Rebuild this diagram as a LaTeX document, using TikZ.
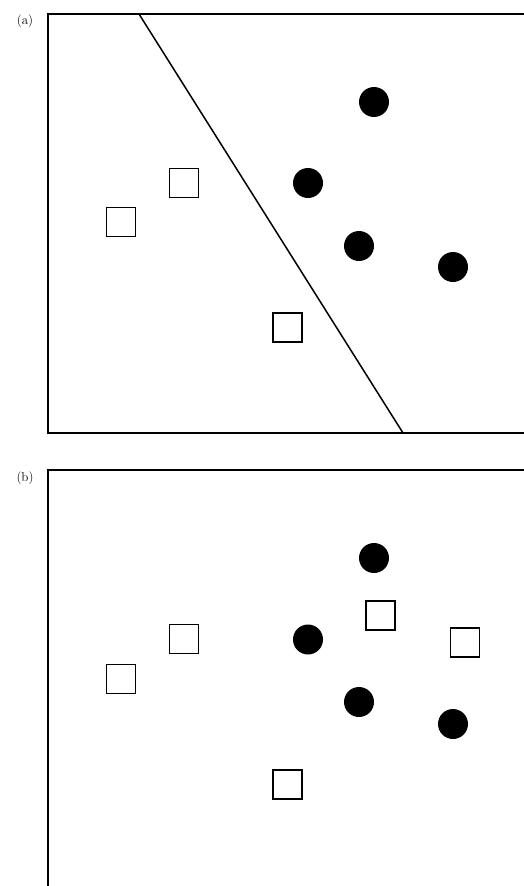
\documentclass[tikz,border=0pt]{standalone}
\begin{document}
\begin{tikzpicture}[x=1pt,y=-1pt,
  sq/.style={draw=black,line width=1.6pt,fill=white,minimum size=29pt,inner sep=0pt,outer sep=0pt},
  dot/.style={circle,fill=black,minimum size=30pt,inner sep=0pt},
  frame/.style={line width=2pt,black},
  sep/.style={line width=1.5pt,black},
  lab/.style={font=\fontsize{13}{13}\selectfont,inner sep=0pt}]
\useasboundingbox (0,0) rectangle (524,886);
% panel (a)
\draw[frame] (524,14) -- (48,14) -- (48,433) -- (524,433);
\node[lab] (la) at (25,21) {(a)};
\coordinate (ltop) at (139,14);
\coordinate (lbot) at (403,433);
\draw[sep] (ltop) -- (lbot);
\node[sq] (a1) at (121,222) {};
\node[sq] (a2) at (184,183) {};
\node[sq] (a3) at (287.5,327.5) {};
\node[dot] (a4) at (374,102) {};
\node[dot] (a5) at (308,183) {};
\node[dot] (a6) at (359,246) {};
\node[dot] (a7) at (453,267) {};
% panel (b)
\draw[frame] (524,470) -- (48,470) -- (48,886);
\node[lab] (lb) at (25,478) {(b)};
\node[sq] (b1) at (121,679) {};
\node[sq] (b2) at (184,639) {};
\node[sq] (b3) at (287.5,784.5) {};
\node[sq] (b4) at (380.5,615.5) {};
\node[sq] (b5) at (465,642.5) {};
\node[dot] (b6) at (374,558) {};
\node[dot] (b7) at (308,639.5) {};
\node[dot] (b8) at (359,702) {};
\node[dot] (b9) at (453,724) {};
\end{tikzpicture}
\end{document}
